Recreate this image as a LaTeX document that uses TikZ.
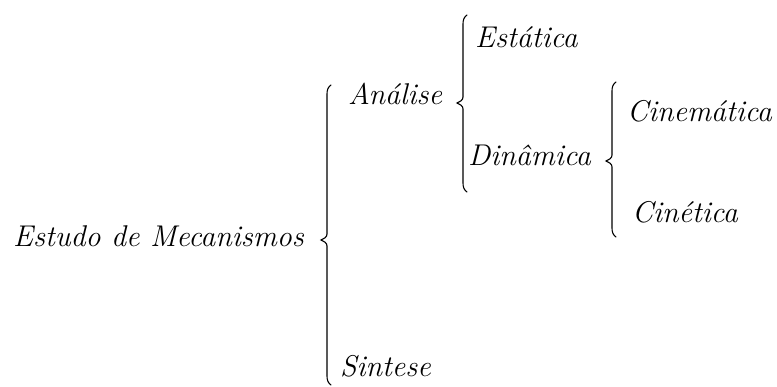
\documentclass[tikz,border=0pt]{standalone}
\begin{document}
\begin{tikzpicture}[x=1pt,y=-1pt,
  lbl/.style={anchor=base west,inner sep=0pt,font=\fontsize{30}{32}\selectfont\itshape},
  brc/.style={line width=1.1pt,line cap=round}]
\useasboundingbox (0,0) rectangle (777,387);
\node[lbl] (est) at (13,247) {Estudo de Mecanismos};
\node[lbl] (ana) at (348,105) {Análise};
\node[lbl] (sta) at (475,48) {Estática};
\node[lbl] (din) at (468,166) {Dinâmica};
\node[lbl] (cin) at (627,122) {Cinemática};
\node[lbl] (cit) at (632,223) {Cinética};
\node[lbl] (sin) at (340,377) {Sintese};
\newcommand{\mybrace}[4]{% x, top, tip, bottom
  \draw[brc] (#1+4,#2) .. controls (#1+1,#2+2) and (#1,#2+5) .. (#1,#2+9)
    -- (#1,#3-6) .. controls (#1,#3-3) and (#1-3,#3-1) .. (#1-6,#3)
    .. controls (#1-3,#3+1) and (#1,#3+3) .. (#1,#3+6)
    -- (#1,#4-9) .. controls (#1,#4-5) and (#1+1,#4-2) .. (#1+4,#4);}
\mybrace{327}{85}{240}{385}
\mybrace{463}{15}{103}{192}
\mybrace{612}{82}{161}{237}
\end{tikzpicture}
\end{document}
